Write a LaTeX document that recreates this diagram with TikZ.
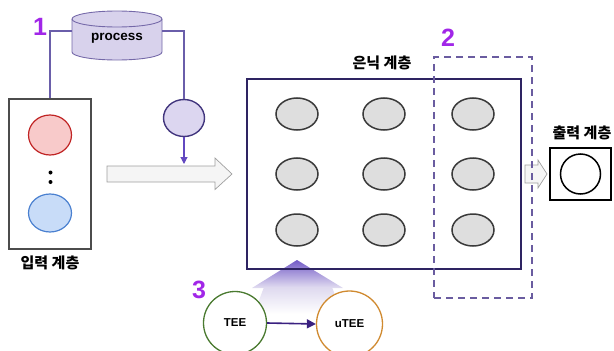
\documentclass[tikz,border=0pt]{standalone}
\usepackage{fontspec}
\setmainfont{Liberation Sans}
\newfontfamily\krfont{Noto Sans CJK KR}
\usetikzlibrary{arrows.meta,shapes.geometric}
\definecolor{lavfill}{HTML}{D8D2EC}
\definecolor{lavline}{HTML}{7468A8}
\definecolor{conn}{HTML}{6A5EAA}
\definecolor{smallfill}{HTML}{DCD6F0}
\definecolor{smallline}{HTML}{42367E}
\definecolor{arr}{HTML}{6248C0}
\definecolor{numcol}{HTML}{A126E8}
\definecolor{hidline}{HTML}{2E2462}
\definecolor{dashcol}{HTML}{6A5CA0}
\definecolor{redfill}{HTML}{F8CACA}
\definecolor{redline}{HTML}{C02424}
\definecolor{bluefill}{HTML}{C8DCF8}
\definecolor{blueline}{HTML}{4A80D0}
\definecolor{neurofill}{HTML}{DEDEDE}
\definecolor{neuroline}{HTML}{3A3A3A}
\definecolor{teeline}{HTML}{4A7A30}
\definecolor{uteeline}{HTML}{D08A30}
\definecolor{tearr}{HTML}{3A2080}
\tikzset{
  num/.style={text=numcol, font=\fontsize{25}{25}\selectfont\bfseries, inner sep=0},
  krlabel/.style={font=\krfont\bfseries\fontsize{15}{15}\selectfont, inner sep=0},
  neuro/.style={ellipse, draw=neuroline, fill=neurofill, line width=1.5pt, minimum width=42pt, minimum height=32pt, inner sep=0},
  hollow/.style={draw=gray!75, fill=gray!8, line width=0.7pt, line join=miter},
  conline/.style={draw=conn, line width=1.1pt},
  teecirc/.style={circle, fill=white, line width=1.3pt, minimum size=63pt, inner sep=0, font=\bfseries\fontsize{11.5}{11.5}\selectfont},
}
\begin{document}
\begin{tikzpicture}[x=1pt,y=-1pt]
\useasboundingbox (0,0) rectangle (614,351);
% gradient up arrow
\path[top color=arr!90!white, bottom color=lavfill!75!white] (297,260) -- (343,288) -- (252,288) -- cycle;
\path[top color=lavfill!85!white, bottom color=white] (264,287) -- (332,287) -- (342,314) -- (254,314) -- cycle;
% cylinder
\path[fill=lavfill, draw=lavline, line width=0.9pt] (72,19) -- (72,52) arc[start angle=180, end angle=0, x radius=45, y radius=8] -- (162,19) arc[start angle=0, end angle=-180, x radius=45, y radius=8] -- cycle;
\draw[lavline, line width=0.9pt] (72,19) arc[start angle=180, end angle=0, x radius=45, y radius=8];
\node[inner sep=0, minimum width=90pt, minimum height=48pt, font=\bfseries\fontsize{13.5}{13.5}\selectfont] (proc) at (117,38) {process};
\node[num] (n1) at (40,27) {1};
% input box
\node[draw=gray!60!black, line width=1.2pt, minimum width=82pt, minimum height=150pt, inner sep=0] (inbox) at (50,174) {};
\node[ellipse, draw=redline, fill=redfill, line width=1.2pt, minimum width=43pt, minimum height=40pt, inner sep=0] (red) at (50,135) {};
\node[ellipse, draw=blueline, fill=bluefill, line width=1.2pt, minimum width=43pt, minimum height=38pt, inner sep=0] (blue) at (50,213) {};
\node[circle, fill=black, minimum size=4pt, inner sep=0] (dota) at (50.5,172.5) {};
\node[circle, fill=black, minimum size=4pt, inner sep=0] (dotb) at (50.5,182) {};
\node[krlabel] (inlab) at (50,263) {입력 계층};
% small circle
\node[ellipse, draw=smallline, fill=smallfill, line width=1.4pt, minimum width=41pt, minimum height=37pt, inner sep=0] (sc) at (184,118) {};
\coordinate (arrend) at (184,164);
\draw[conline] (proc.west |- 0,31) -- (50,31) -- (inbox.north -| 50,0);
\draw[conline] (162,31) -- (184,31) -- (sc.north);
\draw[arr, line width=1.1pt, -{Triangle[length=7pt,width=7pt]}] (sc.south) -- (arrend);
% big hollow arrow
\path[hollow] (107,166) -- (215,166) -- (215,158) -- (232,174) -- (215,189.5) -- (215,182) -- (107,182) -- cycle;
% hidden box
\node[krlabel] (hidlab) at (382,63) {은닉 계층};
\node[draw=hidline, line width=1.3pt, minimum width=274pt, minimum height=190pt, inner sep=0] (hid) at (384,174) {};
\foreach \cx/\c in {297/a,384/b,473/c}{
  \foreach \cy/\r in {114/1,174/2,230/3}{
    \node[neuro] (h\c\r) at (\cx,\cy) {};
  }
}
% small arrow and output
\path[hollow] (525,165) -- (538,165) -- (538,160) -- (547,174) -- (538,188) -- (538,183) -- (525,183) -- cycle;
\node[krlabel] (outlab) at (582,133) {출력 계층};
\node[draw=black, line width=1.6pt, minimum width=61pt, minimum height=52pt, inner sep=0] (outbox) at (580.5,174) {};
\node[circle, draw=black, line width=1.5pt, fill=white, minimum size=40pt, inner sep=0] (outc) at (580.5,174) {};
% dashed box
\node[draw=dashcol, dashed, dash pattern=on 7pt off 5pt, line width=1.2pt, minimum width=98pt, minimum height=241pt, inner sep=0] (dbox) at (483,177.5) {};
\node[num] (n2) at (448,38) {2};
% TEE
\node[num] (n3) at (199,290) {3};
\node[teecirc, draw=teeline] (tee) at (235,323) {TEE};
\node[teecirc, draw=uteeline, minimum size=66pt] (utee) at (349.5,324) {uTEE};
\draw[tearr, line width=1.6pt, -{Triangle[length=9pt,width=9pt]}] (tee.east) -- (utee.west);
\end{tikzpicture}
\end{document}
